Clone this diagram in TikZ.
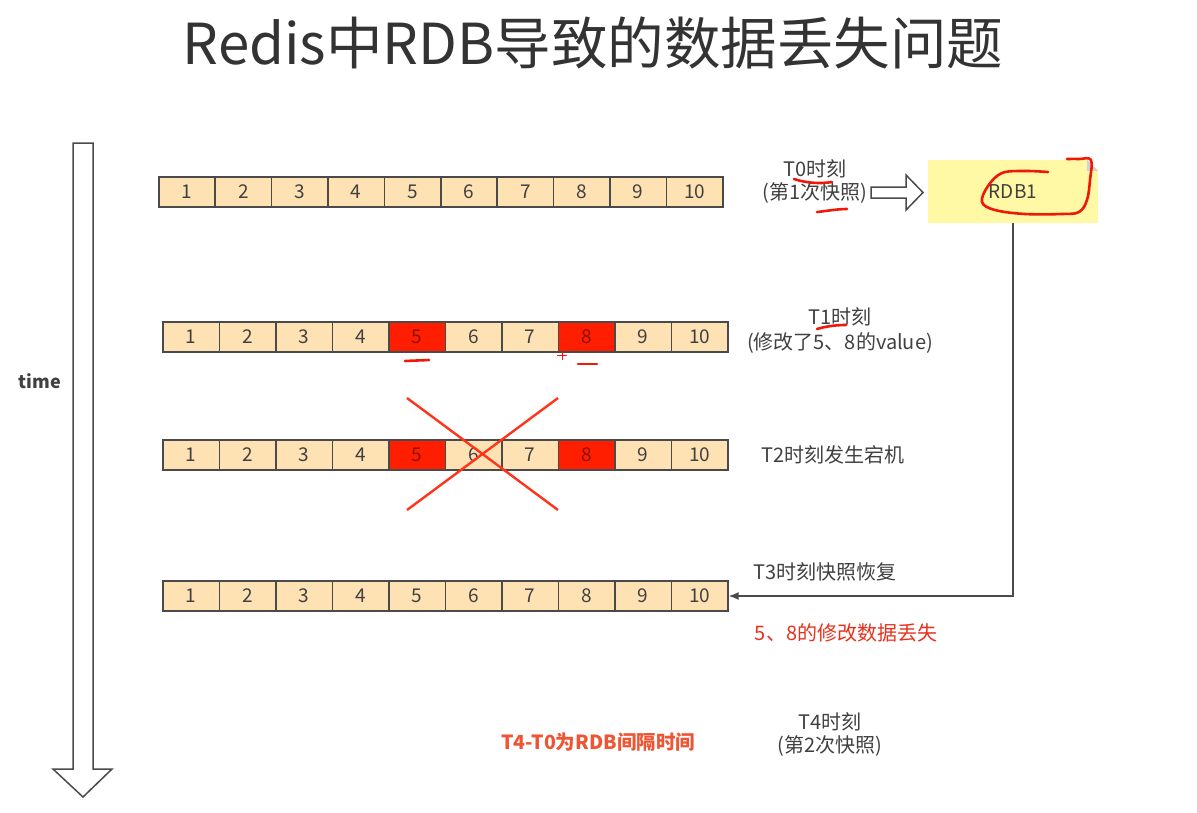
\documentclass[tikz,border=0pt]{standalone}
\usepackage{fontspec}
\setmainfont{Noto Sans CJK SC}
\usetikzlibrary{arrows.meta}
\definecolor{cellfill}{HTML}{FFE2B4}
\definecolor{cellline}{HTML}{4A4A4A}
\definecolor{hotred}{HTML}{FF1E00}
\definecolor{notefill}{HTML}{FFF9A6}
\definecolor{txt}{HTML}{404040}
\definecolor{inkred}{HTML}{F01808}
\definecolor{losttxt}{HTML}{E8301C}
\definecolor{boldtxt}{HTML}{EE5533}
\begin{document}
\begin{tikzpicture}[x=1pt,y=-1pt,
  cell/.style={draw=cellline, line width=1.6pt, fill=cellfill, minimum width=56.5pt, minimum height=30pt, inner sep=0pt, font=\fontsize{19}{19}\selectfont, text=txt, anchor=west},
  hot/.style={fill=hotred, text=hotred!55!black},
  plain/.style={},
  lbl/.style={font=\fontsize{20}{23}\selectfont, text=txt, align=center},
  conn/.style={draw=cellline, line width=1.6pt},
  hollow/.style={draw=cellline, line width=1.5pt, fill=white, line join=miter},
  ink/.style={draw=inkred, line width=2.6pt, line cap=round, line join=round},
  xline/.style={draw=hotred!90!white, line width=2.4pt}]
\useasboundingbox (0,0) rectangle (1197,812);

% title
\node[text=black!80, font=\fontsize{56.5}{56.5}\selectfont] (title) at (593,43) {Redis中RDB导致的数据丢失问题};

% time arrow
\draw[hollow] (73,143) -- (93,143) -- (93,769) -- (112,769) -- (83,797) -- (53,769) -- (73,769) -- cycle;
\node[font=\bfseries\fontsize{18}{18}\selectfont, text=txt] (time) at (40,381) {time};

% row 0
\foreach \i in {1,...,10}
  \node[cell] (r0c\i) at ({158+(\i-1)*56.4},192) {\i};
% row 1 and 2
\foreach \r/\y in {1/337,2/455}{
  \foreach \i in {1,...,10}{
    \ifnum\i=5 \def\st{hot}\else\ifnum\i=8 \def\st{hot}\else\def\st{plain}\fi\fi
    \node[cell,\st] (r\r c\i) at ({162+(\i-1)*56.5},\y) {\i};
  }
}
% row 3
\foreach \i in {1,...,10}
  \node[cell] (r3c\i) at ({162+(\i-1)*56.5},596) {\i};

% red X
\draw[xline] (407,398) -- (558,510);
\draw[xline] (558,398) -- (407,510);

% RDB note
\node[fill=notefill, minimum width=170pt, minimum height=63pt, inner sep=0pt,
      font=\fontsize{19}{19}\selectfont, text=txt] (rdb) at (1013,191.5) {RDB1};
\fill[white] (rdb.north east) -- ([xshift=-11pt]rdb.north east) -- ([yshift=-11pt]rdb.north east) -- cycle;
\fill[black!18] ([xshift=-11pt]rdb.north east) -- ([yshift=-11pt]rdb.north east) -- ([xshift=-11pt,yshift=-11pt]rdb.north east) -- cycle;

% labels
\node[lbl] (t0) at (815,182) {T0时刻\\(第1次快照)};
\node[lbl, font=\fontsize{20}{25}\selectfont] (t1) at (840,331) {T1时刻\\(修改了5、8的value)};
\node[lbl] (t2) at (833,455) {T2时刻发生宕机};
\node[lbl] (t3) at (825,572) {T3时刻快照恢复};
\node[lbl, text=losttxt] (lost) at (846,633) {5、8的修改数据丢失};
\node[lbl] (t4) at (830,734) {T4时刻\\(第2次快照)};
\node[font=\bfseries\fontsize{19.5}{19.5}\selectfont, text=boldtxt] (gap) at (598,742) {T4-T0为RDB间隔时间};

% hollow arrow T0 -> RDB1
\draw[hollow] (871,187) -- (906,187) -- (906,175) -- (923,192.5) -- (906,210) -- (906,198) -- (871,198) -- cycle;

% connector RDB1 -> row 3
\draw[conn, -{Latex[length=10pt,width=8pt]}] (rdb.south) |- (r3c10.east);

% red ink annotations
\draw[ink] (794,179) .. controls (806,183) and (820,184) .. (832,182);
\draw[ink] (817,212) .. controls (827,211) and (837,209) .. (847,209);
\draw[ink] plot[smooth, tension=0.6] coordinates {(1048,172) (1025,171) (1002,173) (988,186) (982,202) (995,210) (1025,214) (1062,214) (1079,212) (1087,200) (1090,180) (1091,160) (1079,159) (1067,159)};
\draw[ink] (405,361) -- (429,360);
\draw[ink] (578,364) -- (597,364);
\draw[draw=inkred, line width=1pt] (562,350) -- (562,360) (557,355) -- (567,355);
\draw[ink] (817,329) .. controls (827,326) and (837,325) .. (846,325);
\end{tikzpicture}
\end{document}
